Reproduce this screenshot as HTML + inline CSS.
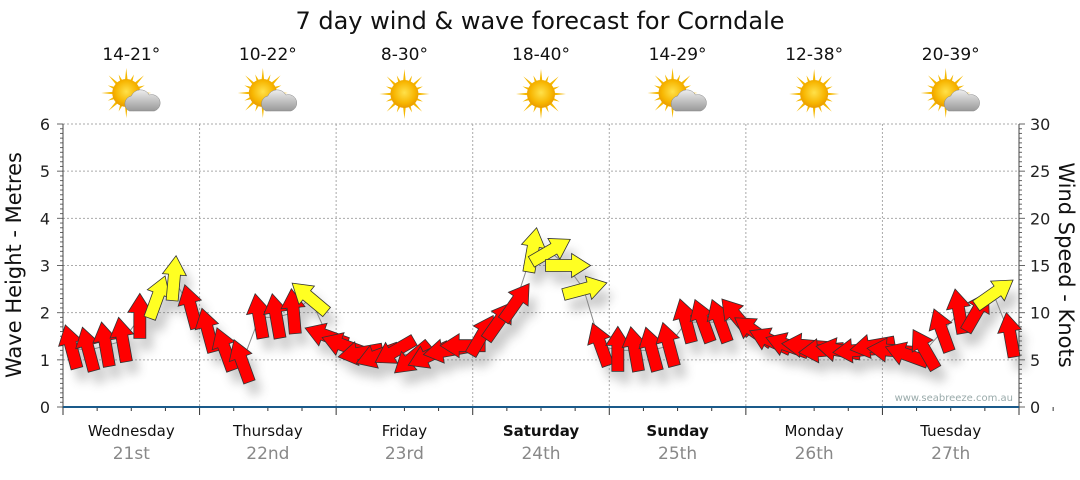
<!DOCTYPE html>
<html><head><meta charset="utf-8"><style>
body{margin:0;background:#fff;font-family:"Liberation Sans",sans-serif}
svg text{font-family:"DejaVu Sans","Liberation Sans",sans-serif}
</style></head><body>
<svg id="c" width="1080" height="475" viewBox="0 0 1080 475">
<defs>
<filter id="sh" x="-50%" y="-50%" width="200%" height="200%"><feGaussianBlur stdDeviation="5"/></filter>
<radialGradient id="sun" cx="50%" cy="45%" r="55%"><stop offset="0" stop-color="#ffe14a"/><stop offset="0.7" stop-color="#f7b500"/><stop offset="1" stop-color="#e89a00"/></radialGradient>
<linearGradient id="cld" x1="0" y1="0" x2="0" y2="1"><stop offset="0" stop-color="#eee"/><stop offset="1" stop-color="#999"/></linearGradient>
</defs>
<text x="540" y="29" text-anchor="middle" font-size="24" fill="#111">7 day wind &amp; wave forecast for Corndale</text>
<g id="grid"></g><g id="axes"></g><g id="icons"></g>
<g id="shadows" filter="url(#sh)" opacity="0.3"></g>
<polyline id="wline" fill="none" stroke="#888" stroke-width="1"/>
<g id="arrows"></g>
<text x="1013" y="401" text-anchor="end" font-size="10" fill="#9aa">www.seabreeze.com.au</text>
<text transform="translate(21,265) rotate(-90)" text-anchor="middle" font-size="21" fill="#111">Wave Height - Metres</text>
<text transform="translate(1059,265) rotate(90)" text-anchor="middle" font-size="21" fill="#111">Wind Speed - Knots</text>
</svg>
<script>
const days=["Wednesday","Thursday","Friday","Saturday","Sunday","Monday","Tuesday"];
const dates=["21st","22nd","23rd","24th","25th","26th","27th"];
const temps=["14-21°","10-22°","8-30°","18-40°","14-29°","12-38°","20-39°"];
const cloudy=[1,1,0,0,1,0,1];
const boldDays=[0,0,0,1,1,0,0];
const waveTicks=[0,1,2,3,4,5,6];
const windTicks=[0,5,10,15,20,25,30];
const heights=[1.25,1.2,1.3,1.4,1.9,2.3,2.7,2.1, 1.6,1.2,0.95,1.9,1.9,2.0,2.3,1.5, 1.3,1.15,1.1,1.2,1.05,1.1,1.2,1.3, 1.5,1.8,2.2,3.3,3.3,3.0,2.5,1.3, 1.2,1.2,1.2,1.3,1.8,1.8,1.8,1.9, 1.6,1.4,1.3,1.3,1.2,1.2,1.2,1.3, 1.2,1.1,1.2,1.6,2.0,2.0,2.4,1.5];
const dirs=[-15,-15,-10,-10,0,20,5,-15, -15,-20,-20,-10,-10,-5,-50,-70, -70,-100,-110,-120,-130,-115,-100,-90, 30,35,35,10,60,90,75,-20, 0,-10,-15,-15,-15,-20,-20,-40, -55,-65,-70,-85,-95,-80,-95,-100, -85,-70,-30,-20,-10,30,55,-10];
const speeds=[9,9,10,10,12,15,16,12, 11,10,9,10,11,12,16,12, 11,10,9,9,9,9,10,11, 12,13,14,17,17,17,16,13, 11,11,11,12,12,12,13,13, 12,11,10,10,10,10,10,10, 9,9,10,12,13,13,16,12];
const X0=63,X1=1019,Y0=407,Y6=124;
const dayW=(X1-X0)/7;
const yW=v=>Y0-(Y0-Y6)*v/6, yS=v=>Y0-(Y0-Y6)*v/30;
const xI=i=>X0+(i+0.5)*(X1-X0)/heights.length;
const NS="http://www.w3.org/2000/svg";
function mk(t,a,p){const e=document.createElementNS(NS,t);for(const k in a)e.setAttribute(k,a[k]);(p||document.getElementById('c')).appendChild(e);return e;}
const grid=document.getElementById('grid'),axes=document.getElementById('axes'),icons=document.getElementById('icons');
waveTicks.forEach(v=>{ if(v>0){const l=mk('line',{x1:X0,x2:X1,y1:yW(v),y2:yW(v),stroke:'#aaa','stroke-dasharray':'2,2'},grid);

}
const t=mk('text',{x:50,y:yW(v)+6,'text-anchor':'end','font-size':16,fill:'#222'},axes);t.textContent=v;

});
windTicks.forEach(v=>{const t=mk('text',{x:1030,y:yS(v)+6,'font-size':16,fill:'#222'},axes);t.textContent=v;

});
for(let k=0;k<=60;k++){const y=Y0-(Y0-Y6)*k/60;const L=k%10==0?6:3;
mk('line',{x1:X0-L,x2:X0,y1:y,y2:y,stroke:'#666'},axes);mk('line',{x1:X1,x2:X1+L,y1:y,y2:y,stroke:'#666'},axes);}
mk('line',{x1:X0,x2:X0,y1:Y6,y2:Y0,stroke:'#444'},axes);mk('line',{x1:X1,x2:X1,y1:Y6,y2:Y0,stroke:'#444'},axes);
for(let d=0;d<=7;d++){const x=X0+d*dayW;
if(d>0&&d<7){const l=mk('line',{x1:x,x2:x,y1:Y6,y2:Y0,stroke:'#aaa','stroke-dasharray':'2,2'},grid);

}
mk('line',{x1:x,x2:x,y1:Y0,y2:Y0+8,stroke:'#333'},axes);
for(let h=1;h<4;h++)mk('line',{x1:x+h*dayW/4,x2:x+h*dayW/4,y1:Y0,y2:Y0+4,stroke:'#333'},axes);}
mk('line',{x1:X0,x2:X1,y1:Y0,y2:Y0,stroke:'#1a5a8a','stroke-width':2},axes);
days.forEach((d,i)=>{const cx=X0+(i+0.5)*dayW;
const t=mk('text',{x:cx,y:436,'text-anchor':'middle','font-size':15,fill:'#111','font-weight':boldDays[i]?'bold':'normal'},axes);t.textContent=d;


const t2=mk('text',{x:cx,y:459,'text-anchor':'middle','font-size':17,fill:'#888'},axes);t2.textContent=dates[i];


const t3=mk('text',{x:cx,y:60,'text-anchor':'middle','font-size':17,fill:'#111'},icons);t3.textContent=temps[i];


const g=mk('g',{transform:`translate(${cx},${cloudy[i]?97:98})`},icons);


const sx=cloudy[i]?-5:0;
for(let r=0;r<16;r++){const a=r*Math.PI/8,L=r%2?20:25;
mk('polygon',{points:`${sx+Math.cos(a-0.12)*12},${-4+Math.sin(a-0.12)*12} ${sx+Math.cos(a)*L},${-4+Math.sin(a)*L} ${sx+Math.cos(a+0.12)*12},${-4+Math.sin(a+0.12)*12}`,fill:'#f5b800'},g);}
mk('circle',{cx:sx,cy:-4,r:14,fill:'url(#sun)'},g);
if(cloudy[i]){mk('path',{d:'M-2,14 a8,8 0 0 1 2,-15 a10,10 0 0 1 18,-1 a7,7 0 0 1 5,16 z',fill:'url(#cld)',stroke:'#888','stroke-width':0.5},g);}
});
const arrowPts="0,-24 12,-5 6,-5 6,21 -6,21 -6,-5 -12,-5";
const A=document.getElementById('arrows'),S=document.getElementById('shadows');
let pts=[];
heights.forEach((h,i)=>{const x=xI(i),y=yW(h);pts.push(x+','+y);
mk('polygon',{points:arrowPts,transform:`translate(${x+7},${y+12}) rotate(${dirs[i]})`,fill:'#555'},S);
const p=mk('polygon',{points:arrowPts,transform:`translate(${x},${y}) rotate(${dirs[i]})`,fill:speeds[i]>=15?'#ffff22':'#ff0000',stroke:'#333','stroke-width':0.8},A);

});
document.getElementById('wline').setAttribute('points',pts.join(' '));
</script>
</body></html>
